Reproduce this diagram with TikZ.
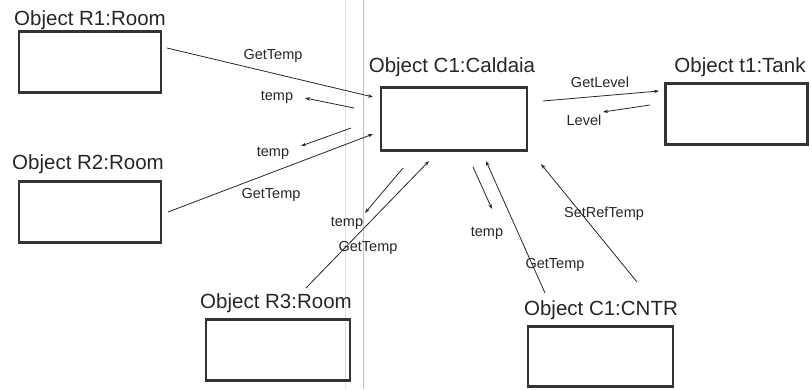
\documentclass[tikz,border=0pt]{standalone}
\usepackage{fontspec}
\setmainfont{Liberation Sans}
\usetikzlibrary{arrows.meta}
\begin{document}
\begin{tikzpicture}[x=1pt,y=-1pt,
  obj/.style={draw=black!80,line width=2.6pt,minimum width=142pt,minimum height=61pt,inner sep=0pt},
  title/.style={anchor=base,inner sep=0pt,font=\fontsize{20.5}{23}\selectfont,text=black!85},
  msg/.style={anchor=base,inner sep=0pt,font=\fontsize{14.5}{16}\selectfont,text=black!85},
  conn/.style={draw=black!85,line width=0.8pt,-{Stealth[length=5pt,width=3.5pt]}},
  scanline/.style={draw=black!25,line width=0.8pt}]
\useasboundingbox (0,0) rectangle (812,389);
% faint scan lines
\coordinate (sa1) at (345,0); \coordinate (sa2) at (345,389);
\coordinate (sb1) at (363,0); \coordinate (sb2) at (363,389);
\draw[scanline,draw=black!12] (sa1) -- (sa2);
\draw[scanline] (sb1) -- (sb2);
% boxes
\node[obj] (r1) at (90,62) {};
\node[obj] (r2) at (90,212) {};
\node[obj,minimum width=146pt,minimum height=63pt] (c1) at (454,119) {};
\node[obj] (t1) at (736.5,114) {};
\node[obj,minimum width=144pt] (r3) at (278,350) {};
\node[obj,minimum width=145pt,minimum height=60pt] (cn) at (600.5,356.5) {};
% titles
\node[title] (r1t) at (90,25) {Object R1:Room};
\node[title] (r2t) at (88,169) {Object R2:Room};
\node[title] (c1t) at (452,72) {Object C1:Caldaia};
\node[title] (t1t) at (740,72) {Object t1:Tank};
\node[title] (r3t) at (276,308) {Object R3:Room};
\node[title] (cnt) at (601,315) {Object C1:CNTR};
% connector endpoints
\coordinate (a1s) at (167,48);  \coordinate (a1e) at (373,97);
\coordinate (a2s) at (354,108); \coordinate (a2e) at (305,98);
\coordinate (a3s) at (351,128); \coordinate (a3e) at (301,146);
\coordinate (a4s) at (168,212); \coordinate (a4e) at (373,134);
\coordinate (a5s) at (543,101); \coordinate (a5e) at (659,91);
\coordinate (a6s) at (650,105); \coordinate (a6e) at (603,112);
\coordinate (a7s) at (306,288); \coordinate (a7e) at (429,161);
\coordinate (a8s) at (403,168); \coordinate (a8e) at (365,213);
\coordinate (a9s) at (473,167); \coordinate (a9e) at (492,209);
\coordinate (a10s) at (545,293); \coordinate (a10e) at (486,161);
\coordinate (a11s) at (637,282); \coordinate (a11e) at (541,164);
% connectors
\draw[conn] (a1s) -- (a1e);
\draw[conn] (a2s) -- (a2e);
\draw[conn] (a3s) -- (a3e);
\draw[conn] (a4s) -- (a4e);
\draw[conn] (a5s) -- (a5e);
\draw[conn] (a6s) -- (a6e);
\draw[conn] (a7s) -- (a7e);
\draw[conn] (a8s) -- (a8e);
\draw[conn] (a9s) -- (a9e);
\draw[conn] (a10s) -- (a10e);
\draw[conn] (a11s) -- (a11e);
% labels
\node[msg] (l1) at (273,59) {GetTemp};
\node[msg] (l2) at (277,100) {temp};
\node[msg] (l3) at (273,156) {temp};
\node[msg] (l4) at (271,198) {GetTemp};
\node[msg] (l5) at (600,87) {GetLevel};
\node[msg] (l6) at (584,125) {Level};
\node[msg] (l7) at (347,226) {temp};
\node[msg] (l8) at (368,251) {GetTemp};
\node[msg] (l9) at (487,236) {temp};
\node[msg] (l10) at (555,268) {GetTemp};
\node[msg] (l11) at (604,217) {SetRefTemp};
\end{tikzpicture}
\end{document}
